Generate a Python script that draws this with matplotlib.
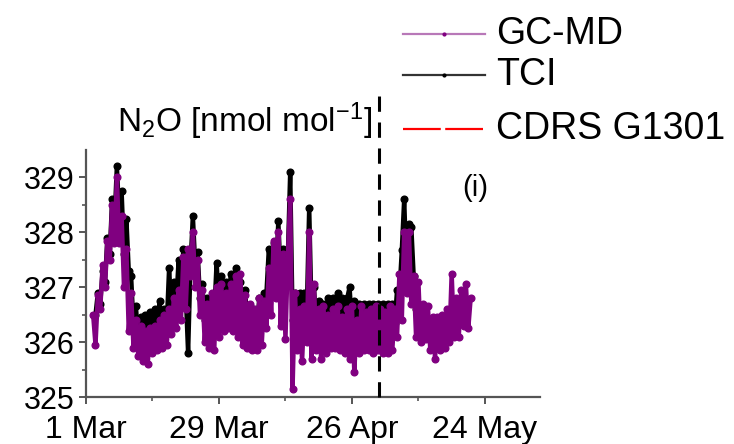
import numpy as np
import matplotlib
matplotlib.use("Agg")
import matplotlib.pyplot as plt
from matplotlib.lines import Line2D

plt.rcParams['font.family'] = ['Liberation Sans', 'DejaVu Sans']
plt.rcParams['mathtext.fontset'] = 'custom'
plt.rcParams['mathtext.rm'] = 'Liberation Sans'
plt.rcParams['mathtext.it'] = 'Liberation Sans'

# ---- data (days since 1 Mar) ----
gcmd_start, gcmd_step = 1.5, 0.5
gcmd_values = [
    326.5, 325.95, 326.85, 326.6, 327.4, 327.0, 327.85, 327.5, 328.5, 327.8,
    329.0, 327.8, 328.3, 327.0, 327.7, 326.2, 326.9, 325.9, 326.4, 325.75,
    326.3, 325.65, 326.2, 325.6, 326.25, 325.8, 326.3, 325.85, 326.4, 325.9,
    326.5, 325.95, 326.6, 326.15, 326.8, 326.25, 326.95, 326.4, 327.55, 326.6,
    327.7, 327.2, 328.0, 327.0, 327.5, 326.5, 326.95, 326.0, 326.7, 325.9,
    326.9, 325.85, 327.0, 326.1, 327.05, 326.2, 326.9, 326.25, 327.05, 326.2,
    327.2, 326.1, 327.25, 325.95, 326.85, 325.9, 326.7, 325.85, 326.6, 325.85,
    326.8, 325.95, 326.75, 326.25, 327.35, 326.5, 327.85, 326.8, 328.0, 326.3,
    327.6, 326.05, 327.55, 328.6, 325.15, 326.9, 325.85, 326.6, 325.65, 326.65,
    326.0, 328.0, 325.7, 327.05, 325.85, 326.6, 325.7, 326.65, 325.8, 326.5,
    325.9, 326.6, 325.9, 326.65, 325.85, 326.45, 325.8, 326.6, 325.7, 326.65,
    325.45, 326.4, 325.8, 326.65, 325.85, 326.55, 325.85, 326.6, 325.8, 326.65,
    325.85, 326.6, 325.8, 326.55, 325.8, 326.65, 325.85, 326.6, 326.1, 327.25,
    326.4, 328.0, 326.9, 328.0, 326.7, 327.2, 326.1, 327.1, 326.0, 326.7,
    326.05, 326.65, 325.85, 326.45, 325.7, 326.45, 325.85, 326.5, 325.9, 326.6,
    326.0, 327.25, 326.1, 326.8, 326.1, 326.95, 326.3, 327.05, 326.25, 326.8,
]
tci_start, tci_step = 2.0, 0.5
tci_values = [
    326.5, 326.9, 326.7, 327.3, 327.1, 327.9, 327.6, 328.6, 328.2, 329.2,
    328.3, 328.75, 327.6, 328.25, 327.3, 327.2, 326.3, 326.65, 326.1, 326.45,
    326.0, 326.5, 326.1, 326.55, 326.15, 326.6, 326.3, 326.75, 326.2, 326.6,
    326.3, 327.35, 326.5, 327.1, 326.7, 327.5, 326.9, 327.7, 326.9, 325.8,
    327.4, 328.3, 327.4, 327.65, 326.8, 327.05, 326.4, 326.8, 326.3, 326.8,
    326.5, 327.45, 326.7, 327.2, 326.6, 327.1, 326.7, 327.25, 326.8, 327.35,
    326.7, 327.1, 326.5, 326.95, 326.3, 326.65, 326.2, 326.45, 326.3, 326.8,
    326.4, 326.9, 326.9, 327.7, 327.1, 327.8, 327.3, 328.2, 327.2, 327.7,
    327.0, 327.55, 329.1, 326.4, 326.9, 326.3, 326.9, 326.4, 326.9, 326.6,
    328.45, 326.5, 327.0, 326.3, 326.75, 326.3, 326.7, 326.3, 326.8, 326.35,
    326.8, 326.4, 326.9, 326.35, 326.8, 326.3, 326.8, 327.0, 326.3, 326.75,
    326.2, 326.7, 326.25, 326.7, 326.3, 326.7, 326.25, 326.7, 326.3, 326.7,
    326.25, 326.7, 326.3, 326.7, 326.25, 326.7, 326.35, 326.95, 326.9, 327.67,
    328.6, 327.3, 328.15, 328.1, 327.2, 326.6, 326.65, 326.3, 326.5,
]
cdrs_values = []

series_labels = ["GC-MD", "TCI", "CDRS G1301"]
xtick_days = [0, 28, 56, 84]
xtick_labels = ["1 Mar", "29 Mar", "26 Apr", "24 May"]
xminor_days = [14, 42, 70]
ytick_values = [325, 326, 327, 328, 329]
event_day = 61.7
panel_label = "(i)"

gcmd_t = gcmd_start + gcmd_step * np.arange(len(gcmd_values))
tci_t = tci_start + tci_step * np.arange(len(tci_values))

W, H = 734, 444
fig = plt.figure(figsize=(W / 100, H / 100), dpi=100)
ax = fig.add_axes([86 / W, 1 - 397 / H, (540 - 86) / W, (397 - 150) / H])

purple = "#800080"
ax.plot(tci_t, tci_values, color="black", lw=3.2, marker="o", ms=4.8,
        solid_joinstyle="round", zorder=2)
ax.plot(gcmd_t, gcmd_values, color=purple, lw=3.2, marker="o", ms=4.8,
        solid_joinstyle="round", zorder=3)
ax.plot([], [], color="red")

ax.set_xlim(0, 95.6)
ax.set_ylim(325, 329.5)
ax.set_xticks(xtick_days)
ax.set_xticklabels(xtick_labels)
ax.set_xticks(xminor_days, minor=True)
ax.set_yticks(ytick_values)
ax.set_yticks(np.arange(325.5, 329.5, 1.0), minor=True)

for s in ["top", "right"]:
    ax.spines[s].set_visible(False)
for s in ["left", "bottom"]:
    ax.spines[s].set_color("#555555")
    ax.spines[s].set_linewidth(1.6)
ax.tick_params(which="major", direction="out", length=5, width=1.4, color="#555555",
               labelsize=22, pad=3)
ax.tick_params(axis="x", which="major", pad=8, labelsize=23)
ax.tick_params(which="minor", direction="out", length=3, width=1.2, color="#555555")

# event line extending above the axes
ax.plot([event_day, event_day], [325, 330.55], color="black", lw=2.2,
        ls=(0, (5, 3.5)), clip_on=False, zorder=4)

ax.text(475 / W, 1 - 188 / H, panel_label, transform=fig.transFigure, fontsize=21,
        ha="center", va="center")
fig.text(372 / W, 1 - 121 / H, r"N$_2$O [nmol mol$^{\mathregular{-1}}$]", fontsize=24,
         ha="right", va="center")

# manual legend
rows = [(34, purple, "#b878b8", "-"), (75, "black", "#333333", "-"),
        (129, "red", "red", (0, (17, 2)))]
for (ypx, mc, lc, ls), lab in zip(rows, series_labels):
    yf = 1 - ypx / H
    fig.add_artist(Line2D([403 / W, 485 / W], [yf, yf], transform=fig.transFigure,
                          color=lc, lw=1.6, ls=ls))
    if lab != "CDRS G1301":
        fig.add_artist(Line2D([444 / W], [yf], transform=fig.transFigure,
                              color=mc, marker="o", ms=2))
    fig.text(496 / W, yf, lab, fontsize=27, ha="left", va="center")

fig.savefig("out.png", dpi=100)
